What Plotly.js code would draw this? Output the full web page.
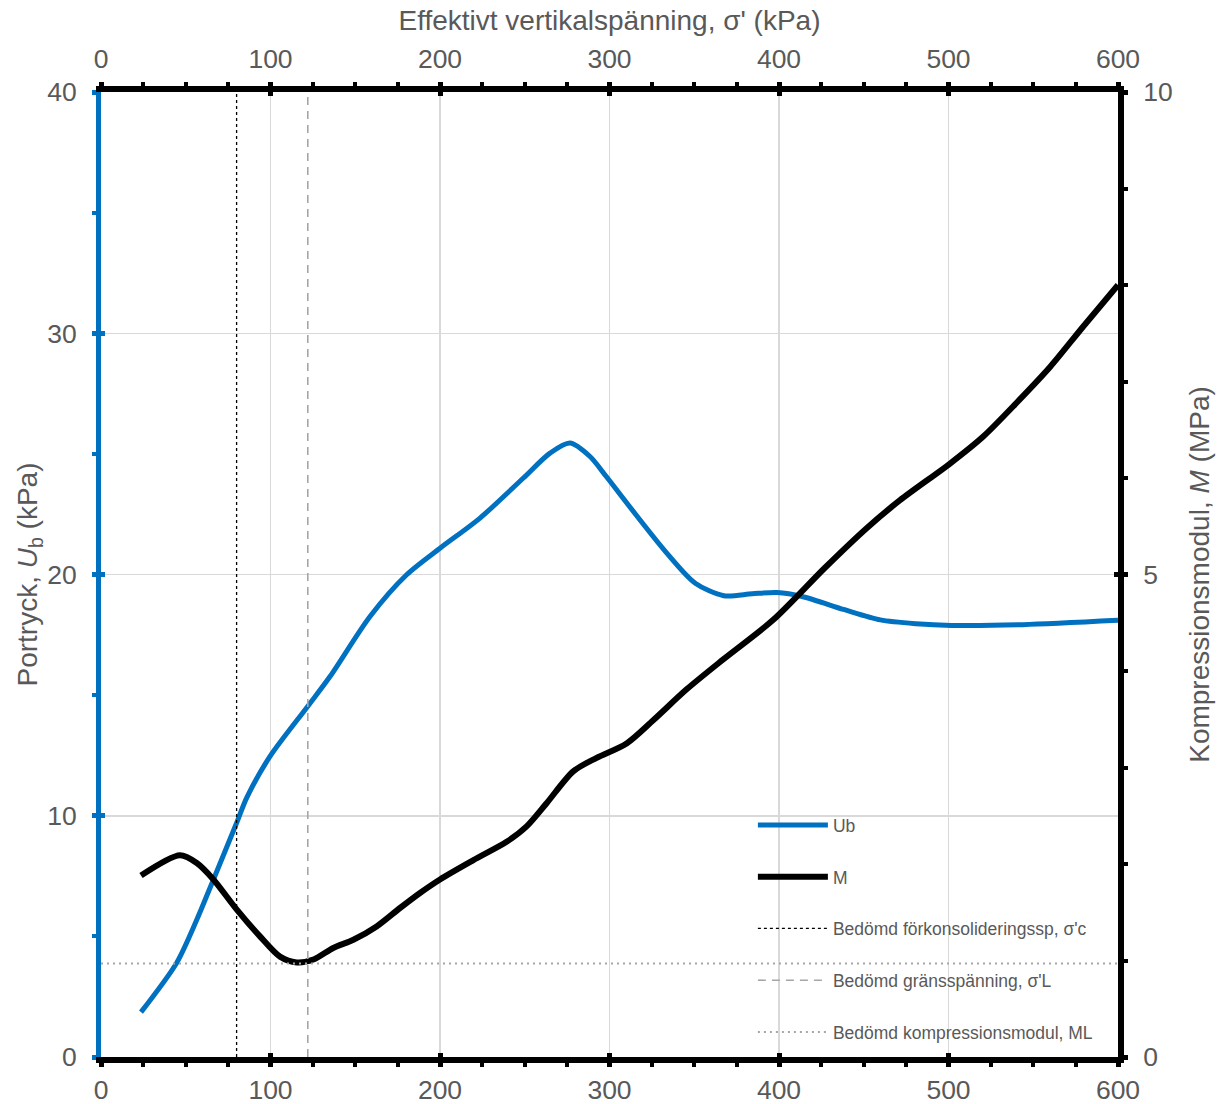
<!DOCTYPE html>
<html>
<head>
<meta charset="utf-8">
<script src="https://cdn.plot.ly/plotly-3.0.1.min.js"></script>
<style>html,body{margin:0;padding:0;background:#fff;}#chart{width:1219px;height:1104px;}</style>
</head>
<body>
<div id="chart"></div>
<script>
// Effective vertical stress (kPa) and pore pressure Ub (kPa)
const ubStress = [23.6, 44.6, 56.5, 66.3, 80, 86, 99.7, 121.9, 135.1, 158.7, 180.3, 200, 223.6, 249.2, 264.9, 276.7, 288.5, 298.1, 314.9, 333.8, 350.6, 367.4, 384.2, 398.9, 413.6, 438.7, 459.8, 480.8, 501.8, 543.7, 600];
const ubValues = [1.86, 3.9, 5.69, 7.35, 9.7, 10.75, 12.46, 14.53, 15.77, 18.26, 19.99, 21.09, 22.34, 24.0, 25.03, 25.45, 24.89, 24.06, 22.54, 20.89, 19.64, 19.12, 19.2, 19.25, 19.09, 18.54, 18.12, 17.96, 17.89, 17.92, 18.1];
// Effective vertical stress (kPa) and compression modulus M (MPa)
const mStress = [23.6, 46.6, 56.5, 66.3, 80, 93.8, 105.6, 115.5, 125.3, 137, 148.9, 162.6, 176.4, 188.2, 200, 219.7, 239.3, 251.1, 262.9, 278.6, 292.4, 310.1, 325.8, 345.5, 367.1, 396.6, 427.1, 451.7, 471.4, 500.9, 520.5, 540.2, 559.9, 579.5, 600];
const mValues = [1.88, 2.09, 2.01, 1.84, 1.53, 1.25, 1.04, 0.98, 1.01, 1.13, 1.215, 1.353, 1.544, 1.70, 1.84, 2.04, 2.23, 2.39, 2.63, 2.96, 3.10, 3.25, 3.49, 3.81, 4.12, 4.53, 5.07, 5.48, 5.77, 6.15, 6.43, 6.78, 7.15, 7.57, 8.0];
// Assessed values
const sigmaC = 80;      // kPa, preconsolidation stress
const sigmaL = 122;     // kPa, limit stress
const modulusL = 0.97;  // MPa, ML
const xRange = [0, 600];
const yLeftRange = [0, 40];
const yRightRange = [0, 10];
const legendNames = ["Ub", "M", "Bedömd förkonsolideringssp, σ'c", "Bedömd gränsspänning, σ'L", "Bedömd kompressionsmodul, ML"];

const FONT = "Liberation Sans, Arial, sans-serif";
const GREY = "#595959";
const BLUE = "#0070C0";

const traces = [
  {x: ubStress, y: ubValues, name: legendNames[0], type: "scatter", mode: "lines", xaxis: "x", yaxis: "y",
   line: {color: BLUE, width: 5, shape: "spline", smoothing: 0.8}, legendgroup: "a"},
  {x: mStress, y: mValues, name: legendNames[1], type: "scatter", mode: "lines", xaxis: "x", yaxis: "y2",
   line: {color: "#000000", width: 6, shape: "spline", smoothing: 0.8}, legendgroup: "b"},
  {x: [sigmaC, sigmaC], y: yLeftRange, name: legendNames[2], type: "scatter", mode: "lines", xaxis: "x3", yaxis: "y3",
   line: {color: "#000000", width: 1.3, dash: "3px,3px"}, legendgroup: "c"},
  {x: [sigmaL, sigmaL], y: yRightRange, name: legendNames[3], type: "scatter", mode: "lines", xaxis: "x4", yaxis: "y4",
   line: {color: "#A6A6A6", width: 1.6, dash: "8px,6px"}, legendgroup: "d"},
  {x: xRange, y: [modulusL, modulusL], name: legendNames[4], type: "scatter", mode: "lines", xaxis: "x2", yaxis: "y2",
   line: {color: "#A6A6A6", width: 2, dash: "2px,4px"}, legendgroup: "e"}
];

const tickFont = {family: FONT, size: 26.5, color: GREY};
const titleFont = {family: FONT, size: 28, color: GREY};

const layout = {
  width: 1219, height: 1104,
  margin: {l: 101, r: 101, t: 92, b: 47},
  paper_bgcolor: "#ffffff", plot_bgcolor: "#ffffff",
  font: {family: FONT, color: GREY},
  showlegend: true,
  legend: {x: 0.641, y: 0.259, xanchor: "left", yanchor: "top", bgcolor: "rgba(0,0,0,0)",
           font: {family: FONT, size: 17.5, color: GREY}, tracegroupgap: 26, itemwidth: 70,
           traceorder: "grouped"},
  xaxis: {range: xRange, side: "bottom", anchor: "y", dtick: 100, tick0: 0,
          showline: true, linecolor: "#000", linewidth: 6,
          ticks: "outside", ticklen: 4, tickwidth: 5, tickcolor: "#000",
          minor: {dtick: 25, ticks: "outside", ticklen: 4, tickwidth: 4, tickcolor: "#000", showgrid: false},
          showgrid: true, gridcolor: "#D9D9D9", gridwidth: 1.5, zeroline: false,
          tickfont: tickFont, ticklabelstandoff: 0},
  xaxis2: {range: xRange, side: "top", overlaying: "x", anchor: "y2", dtick: 100, tick0: 0,
           showline: true, linecolor: "#000", linewidth: 6,
           ticks: "outside", ticklen: 4, tickwidth: 5, tickcolor: "#000",
           minor: {dtick: 25, ticks: "outside", ticklen: 4, tickwidth: 4, tickcolor: "#000", showgrid: false},
           showgrid: false, zeroline: false, tickfont: tickFont, ticklabelstandoff: 3,
           title: {text: "Effektivt vertikalspänning, σ' (kPa)", font: titleFont, standoff: 8}},
  xaxis3: {range: xRange, side: "bottom", overlaying: "x", anchor: "y3", dtick: 100, tick0: 0,
           showline: false, ticks: "inside", ticklen: 4, tickwidth: 5, tickcolor: "#000",
           showticklabels: false, showgrid: false, zeroline: false},
  xaxis4: {range: xRange, side: "top", overlaying: "x", anchor: "y4", dtick: 100, tick0: 0,
           showline: false, ticks: "inside", ticklen: 4, tickwidth: 5, tickcolor: "#000",
           showticklabels: false, showgrid: false, zeroline: false},
  yaxis: {range: yLeftRange, side: "left", anchor: "x", dtick: 10, tick0: 0,
          showline: true, linecolor: BLUE, linewidth: 5,
          ticks: "outside", ticklen: 4, tickwidth: 5, tickcolor: BLUE,
          minor: {dtick: 5, ticks: "outside", ticklen: 4, tickwidth: 4, tickcolor: BLUE, showgrid: false},
          showgrid: true, gridcolor: "#D9D9D9", gridwidth: 1.5, zeroline: false,
          tickfont: tickFont, ticklabelstandoff: 10,
          title: {text: "Portryck, <i>U</i><sub>b</sub> (kPa)", font: titleFont, standoff: 0}},
  yaxis2: {range: yRightRange, side: "right", overlaying: "y", anchor: "x", dtick: 5, tick0: 0,
           showline: true, linecolor: "#000", linewidth: 6,
           ticks: "outside", ticklen: 4, tickwidth: 5, tickcolor: "#000",
           minor: {dtick: 1, ticks: "outside", ticklen: 4, tickwidth: 4, tickcolor: "#000", showgrid: false},
           showgrid: false, zeroline: false, tickfont: tickFont, ticklabelstandoff: 10,
           title: {text: "Kompressionsmodul, <i>M</i> (MPa)", font: titleFont, standoff: 20}},
  yaxis3: {range: yLeftRange, side: "left", overlaying: "y", anchor: "x3", dtick: 10, tick0: 0,
           showline: false, ticks: "inside", ticklen: 4, tickwidth: 5, tickcolor: BLUE,
           showticklabels: false, showgrid: false, zeroline: false},
  yaxis4: {range: yRightRange, side: "right", overlaying: "y", anchor: "x4", dtick: 5, tick0: 0,
           showline: false, ticks: "inside", ticklen: 4, tickwidth: 5, tickcolor: "#000",
           showticklabels: false, showgrid: false, zeroline: false}
};

Plotly.newPlot("chart", traces, layout, {displayModeBar: false, staticPlot: true});
</script>
</body>
</html>
